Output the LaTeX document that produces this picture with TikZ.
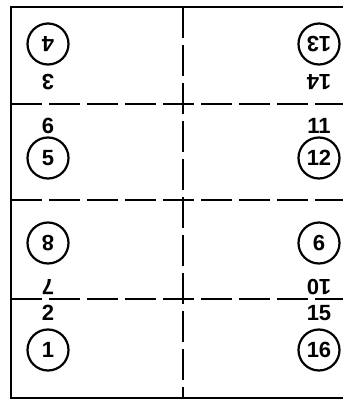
\documentclass[tikz,border=0pt]{standalone}
\usepackage{fontspec}
\setmainfont{Liberation Sans}
\begin{document}
\begin{tikzpicture}[
    x=1pt, y=-1pt,
    font=\fontsize{22}{26}\selectfont\bfseries,
    page/.style={circle, draw, line width=2.2pt, minimum size=41pt, inner sep=0pt},
    folio/.style={inner sep=0pt},
    flip/.style={rotate=180},
    fold/.style={line width=2.6pt, dash pattern=on 31pt off 7pt},
    sheet/.style={line width=2.8pt}
  ]
  \useasboundingbox (0,0) rectangle (343,400);
  \clip (0,0) rectangle (343,400);

  % columns
  \def\cL{48} \def\cR{319}

  % sheet edge and fold lines
  \draw[sheet] (11,7) rectangle (360,398);
  \draw[fold] (183,7) -- (183,398);
  \draw[fold] (11,104) -- (343,104);
  \draw[fold] (11,200) -- (343,200);
  \draw[fold] (11,299) -- (343,299);

  % top row, upside down
  \node[page, flip] (p4) at (\cL,44) {4};
  \node[folio, flip] (f3) at (\cL,82) {3};
  \node[page, flip] (p13) at (\cR,44) {13};
  \node[folio, flip] (f14) at (\cR,82) {14};

  % second row
  \node[folio] (f6) at (\cL,126) {6};
  \node[page] (p5) at (\cL,158) {5};
  \node[folio] (f11) at (\cR,126) {11};
  \node[page] (p12) at (\cR,158) {12};

  % third row, upside down
  \node[page, flip] (p8) at (\cL,243) {8};
  \node[folio, flip] (f7) at (\cL,287) {7};
  \node[page, flip] (p9) at (\cR,243) {9};
  \node[folio, flip] (f10) at (\cR,287) {10};

  % bottom row
  \node[folio] (f2) at (\cL,313) {2};
  \node[page] (p1) at (\cL,350) {1};
  \node[folio] (f15) at (\cR,313) {15};
  \node[page] (p16) at (\cR,350) {16};
\end{tikzpicture}
\end{document}
